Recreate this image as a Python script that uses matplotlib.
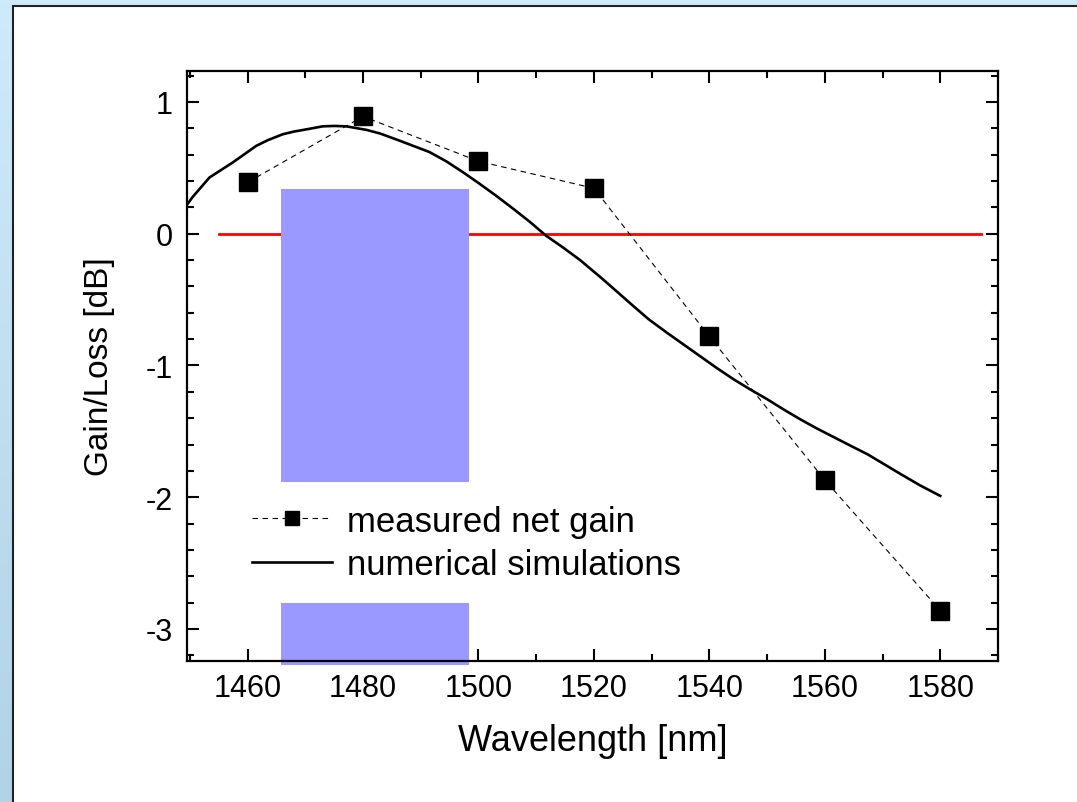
import numpy as np
import matplotlib
matplotlib.use("Agg")
import matplotlib.pyplot as plt
from matplotlib.patches import Rectangle
from matplotlib.ticker import MultipleLocator

plt.rcParams["font.family"] = ["Liberation Sans", "DejaVu Sans"]
plt.rcParams["axes.unicode_minus"] = False

# measured net gain (dB) at the probe wavelengths
meas_wl = [1460, 1480, 1500, 1520, 1540, 1560, 1580]
meas_gain = [0.39, 0.89, 0.55, 0.345, -0.78, -1.87, -2.86]

# simulated gain curve
sim_wl = [1449.5, 1450.5, 1453.4, 1457.4, 1461.5, 1463.5, 1466.1, 1468.0, 1470.8,
          1473.0, 1475.0, 1477.1, 1480.6, 1483.0, 1486.4, 1488.5, 1491.5, 1494.4,
          1497.3, 1500.0, 1503.0, 1506.0, 1508.9, 1511.7, 1514.5, 1517.6, 1521.4,
          1524.0, 1526.8, 1529.5, 1532.6, 1535.5, 1538.4, 1541.3, 1544.2, 1547.0,
          1550.0, 1552.9, 1555.8, 1558.7, 1561.6, 1564.5, 1567.4, 1570.3, 1573.2,
          1576.5, 1580.0]
sim_gain = [0.22, 0.28, 0.427, 0.54, 0.667, 0.71, 0.755, 0.775, 0.797,
            0.815, 0.818, 0.815, 0.788, 0.76, 0.705, 0.67, 0.62, 0.55,
            0.467, 0.385, 0.29, 0.19, 0.09, -0.015, -0.1, -0.2, -0.34,
            -0.44, -0.548, -0.65, -0.75, -0.84, -0.93, -1.02, -1.105, -1.18,
            -1.256, -1.335, -1.41, -1.48, -1.545, -1.61, -1.674, -1.75, -1.826,
            -1.91, -1.99]

# 0 dB reference line and pump band
ref_wl = [1455, 1587]
ref_gain = [0, 0]
band_start, band_end, band_top = 1465.7, 1498.3, 0.34

XLIM = (1449.5, 1590)
YLIM = (-3.243, 1.235)

fig = plt.figure(figsize=(10.77, 8.03), dpi=100)

# slide background: light blue strip with a white panel on top
bg = fig.add_axes([0, 0, 1, 1], zorder=-10)
bg.set_axis_off()
bg.set_xlim(0, 1077)
bg.set_ylim(0, 803)
grad = np.linspace(0, 1, 256).reshape(-1, 1)
top_c = np.array([205, 235, 250]) / 255
bot_c = np.array([178, 210, 230]) / 255
img = top_c[None, None, :] * (1 - grad[:, :, None]) + bot_c[None, None, :] * grad[:, :, None]
bg.imshow(img, extent=(0, 1077, 0, 803), aspect="auto", origin="upper")
bg.add_patch(Rectangle((13, -5), 1100, 803 - 7 + 5, facecolor="white",
                       edgecolor="#222222", linewidth=1.5))

ax = fig.add_axes([187 / 1077, 141 / 803, 811 / 1077, 590 / 803])

ax.plot(ref_wl, ref_gain, color="#ff0000", lw=2.0, zorder=1)
ax.add_patch(Rectangle((band_start, YLIM[0] - 0.03), band_end - band_start,
                       band_top - YLIM[0] + 0.03, facecolor="#9999ff",
                       edgecolor="none", zorder=2, clip_on=False))
ax.plot(meas_wl, meas_gain, color="black", lw=0.8, ls=(0, (5, 4)),
        marker="s", markersize=13.5, markerfacecolor="black",
        markeredgecolor="black", zorder=4, label="measured net gain")
ax.plot(sim_wl, sim_gain, color="black", lw=1.9, zorder=3,
        label="numerical simulations")

ax.set_xlim(*XLIM)
ax.set_ylim(*YLIM)
ax.xaxis.set_major_locator(MultipleLocator(20))
ax.xaxis.set_minor_locator(MultipleLocator(10))
ax.yaxis.set_major_locator(MultipleLocator(1))
ax.yaxis.set_minor_locator(MultipleLocator(0.2))
ax.tick_params(which="both", direction="in", top=True, right=True, width=1.5,
               labelsize=22)
ax.tick_params(which="major", length=8.5)
ax.tick_params(which="minor", length=4.8)
ax.tick_params(axis="x", pad=9)
ax.tick_params(axis="y", pad=10)
for sp in ax.spines.values():
    sp.set_linewidth(1.6)

ax.set_xlabel("Wavelength [nm]", fontsize=26, labelpad=14)
ax.set_ylabel("Gain/Loss [dB]", fontsize=24, labelpad=22)

leg = ax.legend(loc="upper left", bbox_to_anchor=(0.052, 0.3035),
                borderaxespad=0, borderpad=0.65, fontsize=25, frameon=True,
                fancybox=False, handlelength=2.3, handletextpad=0.45,
                labelspacing=0.3, markerscale=0.7)
leg.get_frame().set_facecolor("white")
leg.get_frame().set_edgecolor("none")
leg.get_frame().set_alpha(1)

fig.savefig("out.png", dpi=100)
